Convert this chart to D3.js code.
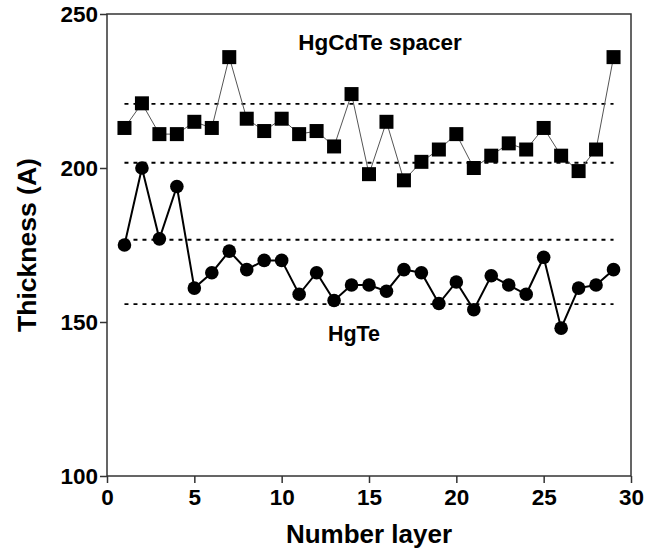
<!DOCTYPE html>
<html>
<head>
<meta charset="utf-8">
<script src="https://cdn.jsdelivr.net/npm/d3@7"></script>
<style>
  body { margin: 0; background: #fff; }
  text { font-family: "Liberation Sans", Arial, sans-serif; font-weight: bold; }
</style>
</head>
<body>
<svg id="vis" width="656" height="551"></svg>
<script>
// layer numbers
const layers = d3.range(1, 30)

// HgCdTe spacer thickness (squares)
const spacer = [213, 221, 211, 211, 215, 213, 236, 216, 212, 216, 211, 212, 207, 224, 198,
    215, 196, 202, 206, 211, 200, 204, 208, 206, 213, 204, 199, 206, 236]

// HgTe thickness (circles)
const hgte = [175, 200, 177, 194, 161, 166, 173, 167, 170, 170, 159, 166, 157, 162, 162,
    160, 167, 166, 156, 163, 154, 165, 162, 159, 171, 148, 161, 162, 167]

// dotted reference levels
const refLevels = [220.8, 201.7, 176.7, 155.8]

const xTicks = [0, 5, 10, 15, 20, 25, 30]
const yTicks = [100, 150, 200, 250]

const svg = d3.select("#vis")
const mLeft = 107, mRight = 631, mTop = 14, mBottom = 476

const x = d3.scaleLinear().domain([0, 30]).range([mLeft, mRight])
const y = d3.scaleLinear().domain([100, 250]).range([mBottom, mTop])

// frame
svg.append("rect")
    .attr("x", mLeft).attr("y", mTop)
    .attr("width", mRight - mLeft).attr("height", mBottom - mTop)
    .attr("fill", "none").attr("stroke", "#333").attr("stroke-width", 1.5)

// axes
const xAxis = svg.append("g")
    .attr("transform", `translate(0,${mBottom})`)
    .call(d3.axisBottom(x).tickValues(xTicks).tickSize(7).tickPadding(6))
const yAxis = svg.append("g")
    .attr("transform", `translate(${mLeft},0)`)
    .call(d3.axisLeft(y).tickValues(yTicks).tickSize(7).tickPadding(2))

for (const ax of [xAxis, yAxis]) {
    ax.select(".domain").remove()
    ax.selectAll("line").attr("stroke", "#333").attr("stroke-width", 1.5)
    ax.selectAll("text").attr("fill", "#000").style("font-size", "22.5px").style("font-family", "Liberation Sans, Arial, sans-serif").style("font-weight", "bold")
}

// dotted lines
svg.selectAll(".ref")
    .data(refLevels)
    .join("line")
    .attr("x1", x(1)).attr("x2", x(29))
    .attr("y1", d => y(d)).attr("y2", d => y(d))
    .attr("stroke", "#000").attr("stroke-width", 1.8)
    .attr("stroke-dasharray", "4,5")

// spacer line + squares
svg.append("path")
    .datum(spacer)
    .attr("fill", "none").attr("stroke", "#555").attr("stroke-width", 1)
    .attr("d", d3.line().x((d, i) => x(layers[i])).y(d => y(d)))

svg.selectAll(".sq")
    .data(spacer)
    .join("rect")
    .attr("x", (d, i) => x(layers[i]) - 7)
    .attr("y", d => y(d) - 7)
    .attr("width", 14).attr("height", 14)
    .attr("fill", "#000")

// HgTe line + circles
svg.append("path")
    .datum(hgte)
    .attr("fill", "none").attr("stroke", "#000").attr("stroke-width", 2)
    .attr("d", d3.line().x((d, i) => x(layers[i])).y(d => y(d)))

svg.selectAll(".dot")
    .data(hgte)
    .join("circle")
    .attr("cx", (d, i) => x(layers[i]))
    .attr("cy", d => y(d))
    .attr("r", 6.8)
    .attr("fill", "#000")

// labels
svg.append("text").attr("x", 380).attr("y", 50)
    .attr("text-anchor", "middle").style("font-size", "22.5px").text("HgCdTe spacer")
svg.append("text").attr("x", 354).attr("y", 341)
    .attr("text-anchor", "middle").style("font-size", "21.5px").text("HgTe")

svg.append("text").attr("x", (mLeft + mRight) / 2).attr("y", 543)
    .attr("text-anchor", "middle").style("font-size", "26px").text("Number layer")
svg.append("text")
    .attr("transform", `translate(36,${(mTop + mBottom) / 2}) rotate(-90)`)
    .attr("text-anchor", "middle").style("font-size", "26.5px").text("Thickness (A)")
</script>
</body>
</html>
